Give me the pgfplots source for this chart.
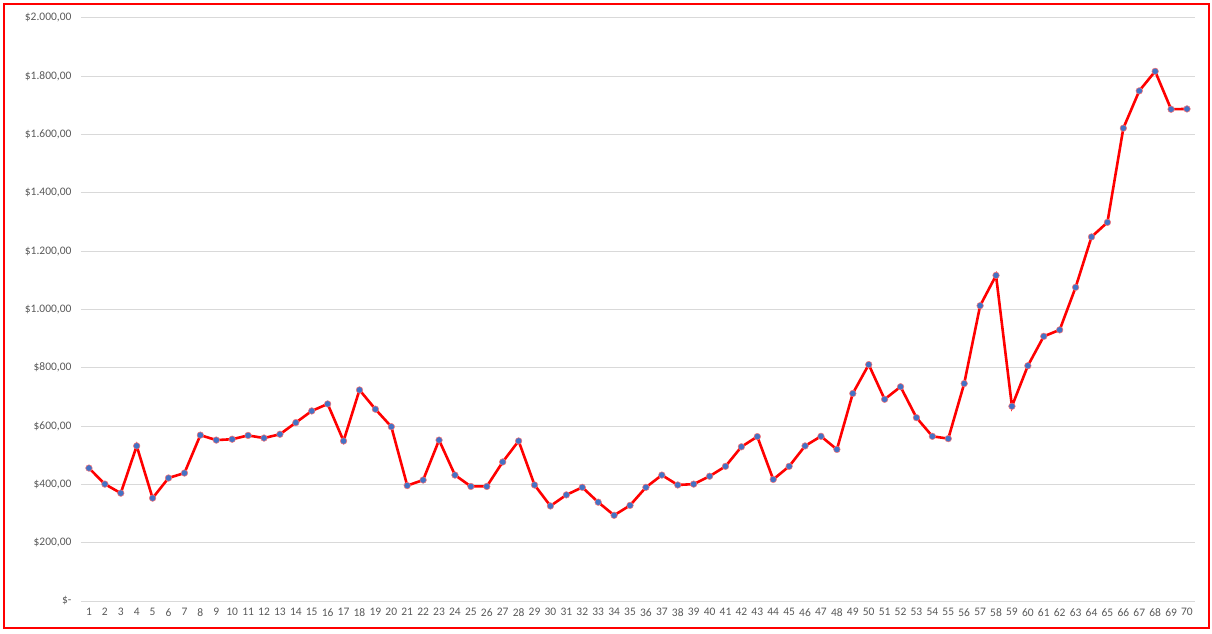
\documentclass[border=0pt]{standalone}
\usepackage{pgfplots}
\pgfplotsset{compat=1.18}
\usepackage{fontspec}
\setmainfont{Carlito}
\definecolor{gridgray}{HTML}{D9D9D9}
\definecolor{txtgray}{HTML}{595959}
\definecolor{mkblue}{HTML}{4472C4}
\begin{document}
\begin{tikzpicture}
\begin{axis}[
    at={(0pt,0pt)}, anchor=south west,
    scale only axis,
    width=1114pt, height=583pt,
    xmin=0.5, xmax=70.5,
    ymin=0, ymax=2000,
    axis line style={draw=none},
    tick style={draw=none},
    ymajorgrids,
    grid style={gridgray, line width=1pt},
    xtick={1,...,70},
    ytick={0,200,...,2000},
    yticklabels={{\$-\hspace{5pt}},{\$200,00},{\$400,00},{\$600,00},{\$800,00},{\$1.000,00},{\$1.200,00},{\$1.400,00},{\$1.600,00},{\$1.800,00},{\$2.000,00}},
    /pgf/number format/assume math mode=true,
    ticklabel style={font=\fontsize{11.5}{13}\selectfont, text=txtgray},
    yticklabel style={xshift=-6pt},
    xticklabel style={yshift=-4pt},
]
\addplot[red, line width=2.6pt, mark=*, mark size=3.3pt,
    mark options={fill=mkblue, draw=red!55, line width=0.5pt}]
coordinates {
(1,456) (2,401) (3,370) (4,532) (5,353) (6,422) (7,439) (8,569) (9,552) (10,555)
(11,568) (12,559) (13,572) (14,612) (15,652) (16,676) (17,549) (18,724) (19,658) (20,598)
(21,396) (22,415) (23,552) (24,432) (25,393) (26,393) (27,477) (28,549) (29,398) (30,326)
(31,364) (32,390) (33,339) (34,294) (35,328) (36,390) (37,432) (38,398) (39,401) (40,428)
(41,462) (42,529) (43,564) (44,417) (45,462) (46,532) (47,565) (48,520) (49,712) (50,811)
(51,692) (52,735) (53,629) (54,565) (55,557) (56,746) (57,1013) (58,1117) (59,668) (60,807)
(61,908) (62,930) (63,1076) (64,1249) (65,1299) (66,1622) (67,1750) (68,1817) (69,1687) (70,1688)
};
\end{axis}
\draw[red, line width=1.6pt] (-77pt,-27pt) rectangle (1128pt,597pt);
\path (-81pt,-33pt) rectangle (1131pt,601pt);
\end{tikzpicture}
\end{document}
